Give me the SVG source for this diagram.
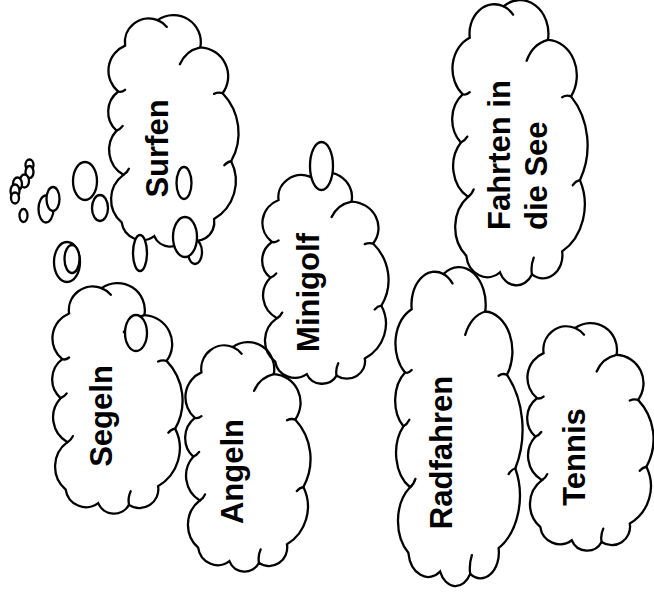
<svg xmlns="http://www.w3.org/2000/svg" xmlns:xlink="http://www.w3.org/1999/xlink" width="654" height="598" viewBox="0 0 654 598">
<style>
.c{fill:none;stroke:#000;stroke-width:2.3;stroke-linecap:round;vector-effect:non-scaling-stroke}
.b{fill:#fff;stroke:#000;stroke-width:2.3}
.t{font-family:"Liberation Sans",Arial,sans-serif;font-weight:bold;font-size:31px;fill:#000}
</style>
<defs>
<g id="cloud">
<path class="c" d="M50,90 A70,70 0 0 1 145,15 A80,80 0 0 1 270,95 A85,85 0 0 1 335,230 A170,170 0 0 1 360,430 A130,130 0 0 1 310,600 A55,55 0 0 1 225,655 A50,50 0 0 1 135,650 A60,60 0 0 1 40,610 A90,90 0 0 1 45,470 A85,85 0 0 1 25,340 A75,75 0 0 1 30,225 A80,80 0 0 1 50,90 Z"/>
<path class="c" d="M145,15 A70,70 0 0 1 172,35 M210,145 A85,85 0 0 1 270,95 M335,230 Q322,226 310,232 M360,430 Q348,432 340,442 M225,655 Q221,635 230,615 M45,470 Q56,464 61,452 M25,340 Q36,336 43,326 M30,225 Q40,228 50,220"/>
</g>
</defs>
<rect width="654" height="598" fill="#fff"/>
<g id="surfen">
<use xlink:href="#cloud" transform="translate(108,15) scale(0.3421,0.3401)"/>
<ellipse class="b" cx="184" cy="183" rx="7.5" ry="16"/>
<ellipse class="b" cx="195" cy="252" rx="7" ry="12"/>
<ellipse class="b" cx="185" cy="237" rx="12" ry="20"/>
<text class="t" text-anchor="middle" transform="translate(168,148.5) rotate(-90)">Surfen</text>
</g>
<g id="fahrten">
<use xlink:href="#cloud" transform="translate(452,0) scale(0.3553,0.419)"/>
<text class="t" transform="translate(510,230) rotate(-90)">Fahrten in</text>
<text class="t" transform="translate(547,230) rotate(-90)">die See</text>
</g>
<g id="minigolf">
<use xlink:href="#cloud" transform="translate(262,172) scale(0.3316,0.311)"/>
<ellipse class="b" cx="321.5" cy="166" rx="11.5" ry="24"/>
<text class="t" text-anchor="middle" transform="translate(319,292.5) rotate(-90)">Minigolf</text>
</g>
<g id="segeln">
<use xlink:href="#cloud" transform="translate(52,283) scale(0.3421,0.3387)"/>
<ellipse class="b" cx="136" cy="333" rx="11" ry="18"/>
<text class="t" text-anchor="middle" transform="translate(112,416) rotate(-90)">Segeln</text>
</g>
<g id="angeln">
<use xlink:href="#cloud" transform="translate(185,342) scale(0.3289,0.3372)"/>
<text class="t" text-anchor="middle" transform="translate(243,471.5) rotate(-90)">Angeln</text>
</g>
<g id="radfahren">
<use xlink:href="#cloud" transform="translate(395,267) scale(0.3342,0.4686)"/>
<text class="t" text-anchor="middle" transform="translate(452,452.5) rotate(-90)">Radfahren</text>
</g>
<g id="tennis">
<use xlink:href="#cloud" transform="translate(527,323) scale(0.3316,0.3343)"/>
<text class="t" text-anchor="middle" transform="translate(585,457) rotate(-90)">Tennis</text>
</g>
<g id="bubbles">
<ellipse class="b" cx="29.5" cy="165" rx="4" ry="5.5"/>
<ellipse class="b" cx="29.5" cy="172" rx="4" ry="6"/>
<ellipse class="b" cx="24.5" cy="181" rx="4.5" ry="6.5"/>
<ellipse class="b" cx="17.5" cy="184" rx="4.5" ry="6.5"/>
<ellipse class="b" cx="15" cy="191" rx="4.5" ry="6.5"/>
<ellipse class="b" cx="15" cy="198" rx="4" ry="5.5"/>
<ellipse class="b" cx="23.5" cy="215.5" rx="4" ry="6.5"/>
<ellipse class="b" cx="46" cy="209" rx="7.5" ry="13.5"/>
<ellipse class="b" cx="53" cy="199" rx="6.5" ry="12"/>
<ellipse class="b" cx="85" cy="181" rx="12" ry="19"/>
<ellipse class="b" cx="100" cy="208" rx="8" ry="13"/>
<ellipse class="b" cx="67" cy="262" rx="13" ry="20"/>
<ellipse class="b" cx="72" cy="259" rx="7.5" ry="14"/>
<ellipse class="b" cx="140" cy="253" rx="7" ry="18"/>
</g>
</svg>
